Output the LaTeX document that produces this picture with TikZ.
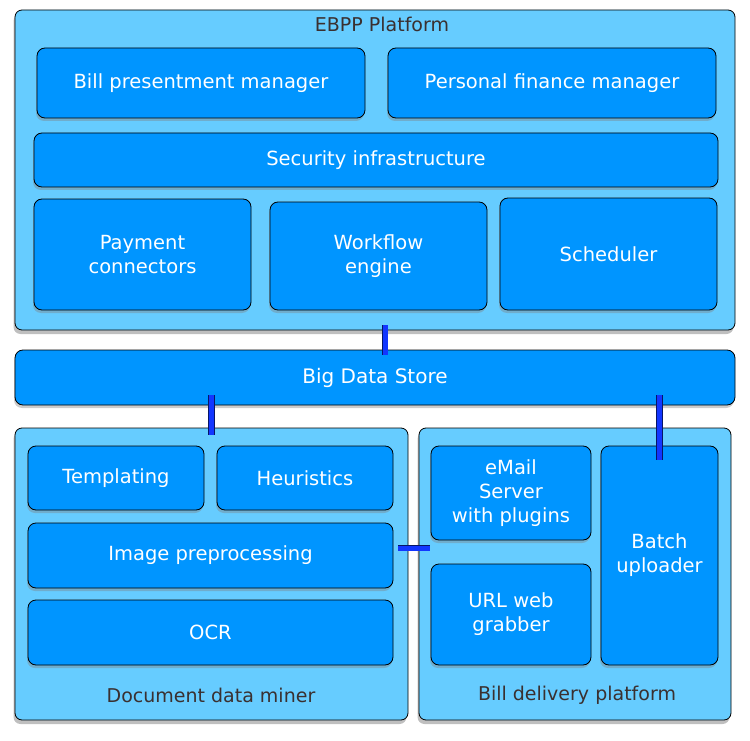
\documentclass[tikz,border=0pt]{standalone}
\usepackage{fontspec}
\setmainfont{DejaVu Sans}
\usetikzlibrary{shadows}
\definecolor{outerblue}{HTML}{66CCFF}
\definecolor{innerblue}{HTML}{0095FF}
\definecolor{linkblue}{HTML}{1236FF}
\definecolor{titlegray}{HTML}{3A3030}
\tikzset{
  layer/.style={draw=black, line width=0.8pt, rounded corners=7pt, fill=outerblue,
    drop shadow={shadow xshift=-1.5pt, shadow yshift=-4pt, opacity=0.5}},
  part/.style={draw=black, line width=0.8pt, rounded corners=8pt, fill=innerblue,
    text=white, align=center, font=\fontsize{19.5}{24}\selectfont,
    drop shadow={shadow xshift=-1pt, shadow yshift=-3pt, opacity=0.4}},
  caption/.style={text=titlegray, font=\fontsize{19}{23}\selectfont},
  link/.style={draw=black!60!linkblue, line width=0.7pt, double=linkblue, double distance=5pt}
}
\begin{document}
\begin{tikzpicture}[x=1pt, y=-1pt]
	\useasboundingbox (0,0) rectangle (750,741);
	% EBPP platform
	\node[layer, minimum width=720, minimum height=320] (ebpp) at (375,170) {};
	\node[caption] (ebpptitle) at (382,24) {EBPP Platform};
	\node[part, minimum width=328, minimum height=70] (bpm) at (201,83) {Bill presentment manager};
	\node[part, minimum width=328, minimum height=70] (pfm) at (552,83) {Personal finance manager};
	\node[part, minimum width=684, minimum height=54] (sec) at (376,160) {Security infrastructure};
	\node[part, minimum width=217, minimum height=111] (pay) at (142.5,254.5) {Payment\\connectors};
	\node[part, minimum width=217, minimum height=108] (wf) at (378.5,256) {Workflow\\engine};
	\node[part, minimum width=217, minimum height=112] (sch) at (608.5,254) {Scheduler};
	% store
	\node[part, minimum width=720, minimum height=55, font=\fontsize{20}{24}\selectfont] (bds) at (375,377.5) {Big Data Store};
	% document data miner
	\node[layer, minimum width=393, minimum height=292] (ddm) at (211.5,574) {};
	\node[caption] (ddmtitle) at (211,695) {Document data miner};
	\node[part, minimum width=176, minimum height=64] (tmp) at (116,478) {Templating};
	\node[part, minimum width=176, minimum height=64] (heu) at (305,478) {Heuristics};
	\node[part, minimum width=365, minimum height=65] (img) at (210.5,555.5) {Image preprocessing};
	\node[part, minimum width=365, minimum height=65] (ocr) at (210.5,632.5) {OCR};
	% bill delivery platform
	\node[layer, minimum width=312, minimum height=292] (bdp) at (575,574) {};
	\node[caption] (bdptitle) at (577,695) {Bill delivery platform};
	\node[part, minimum width=160, minimum height=94] (mail) at (511,493) {eMail\\Server\\with plugins};
	\node[part, minimum width=160, minimum height=101] (url) at (511,614.5) {URL web\\grabber};
	\node[part, minimum width=117, minimum height=219] (batch) at (659.5,555.5) {Batch\\uploader};
	% links
	\draw[link, shorten <=-5pt, shorten >=-5pt] ([xshift=10pt]ebpp.south) -- ([xshift=10pt]bds.north);
	\draw[link, shorten <=-10pt, shorten >=-7pt] (ddm.north |- bds.south) -- (ddm.north);
	\draw[link, shorten <=-10pt, shorten >=-14pt] (batch.north |- bds.south) -- (batch.north);
	\draw[link, shorten <=5pt, shorten >=-11pt] ([yshift=7.5pt]img.east) -- ([yshift=7.5pt]img.east -| bdp.west);
\end{tikzpicture}
\end{document}
